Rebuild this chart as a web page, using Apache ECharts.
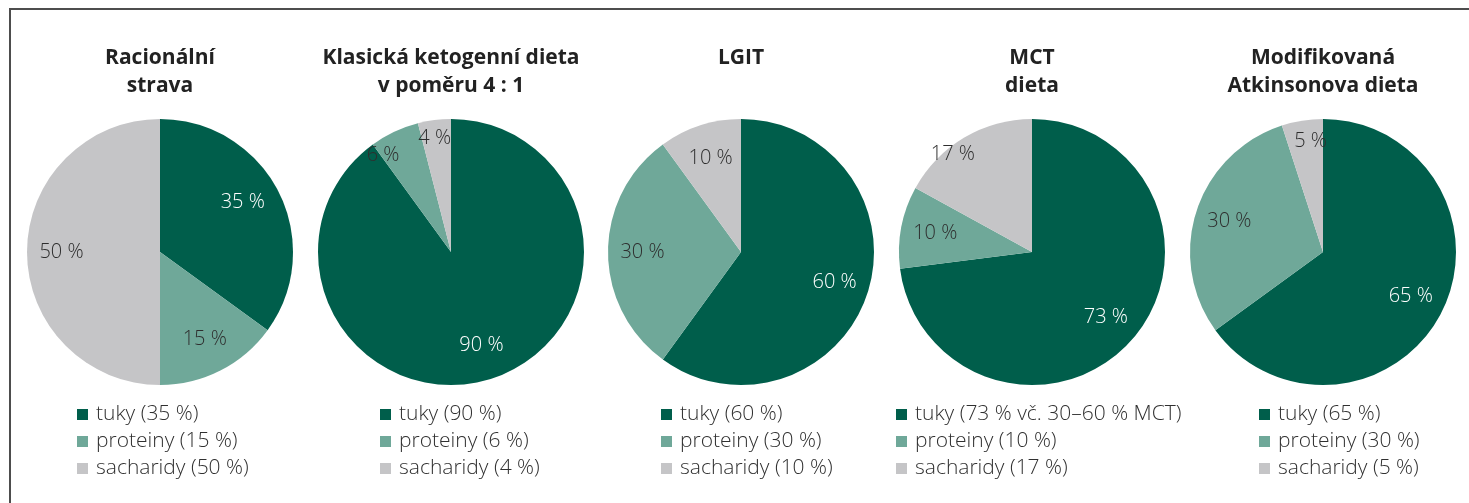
<!DOCTYPE html>
<html>
<head>
<meta charset="utf-8">
<script src="https://cdn.jsdelivr.net/npm/echarts@6/dist/echarts.min.js"></script>
<style>
  html, body { margin: 0; padding: 0; background: #fff; overflow: hidden; }
  #chart { position: absolute; left: 0; top: 0; width: 1469px; height: 503px; }
  /* rámeček obrázku - vidět je jen horní a levá hrana */
  .frame { position: absolute; left: 9px; top: 8px; width: 1500px; height: 520px;
           border-top: 2px solid #4d4d4d; border-left: 2px solid #4d4d4d; }
</style>
</head>
<body>
<div class="frame"></div>
<div id="chart"></div>
<script>
  // data
  const titles = ['Racionální\nstrava', 'Klasická ketogenní dieta\nv poměru 4 : 1', 'LGIT', 'MCT\ndieta', 'Modifikovaná\nAtkinsonova dieta'];
  const partNames = ['tuky', 'proteiny', 'sacharidy'];
  const tuky = [35, 90, 60, 73, 65];
  const proteiny = [15, 6, 30, 10, 30];
  const sacharidy = [50, 4, 10, 17, 5];
  const tukyNote = ['', '', '', ' vč. 30–60 % MCT', ''];

  // vzhled
  const colors = ['#005e4b', '#6fa899', '#c5c5c7'];
  const labelColors = ['#ffffff', '#2e2e2e', '#2e2e2e'];
  const centersX = [160, 451, 741, 1032, 1323];
  const legendLeft = [77, 380, 661, 896, 1259];
  const centerY = 252;
  const radius = 133;
  // ruční posun popisků u malých výsečí (jako v originále)
  const labelNudge = [
    [[-5, -5], null, null],
    [null, [-26, -8], [-4, -16]],
    [null, null, null],
    [null, null, [-29, -13]],
    [null, null, [3, -13]]
  ];
  const font = '"Open Sans", "Noto Sans", sans-serif';

  const chart = echarts.init(document.getElementById('chart'));
  const title = [], legend = [], series = [];

  titles.forEach((t, i) => {
    const values = [tuky[i], proteiny[i], sacharidy[i]];
    const names = [
      `tuky (${tuky[i]} %${tukyNote[i]})`,
      `proteiny (${proteiny[i]} %)`,
      `sacharidy (${sacharidy[i]} %)`
    ];
    title.push({
      text: t,
      left: centersX[i],
      top: 44,
      textAlign: 'center',
      padding: 0,
      textStyle: { fontFamily: font, fontWeight: 'bold', fontSize: 21, lineHeight: 28, color: '#222' }
    });
    legend.push({
      orient: 'vertical',
      left: legendLeft[i],
      top: 401,
      padding: 0,
      itemGap: 0,
      itemWidth: 11,
      itemHeight: 11,
      icon: 'rect',
      selectedMode: false,
      data: names,
      textStyle: { fontFamily: font, fontSize: 21, fontWeight: 300, color: '#303030', lineHeight: 27, padding: [0, 0, 0, 3] }
    });
    // samotný koláč
    series.push({
      type: 'pie',
      center: [centersX[i], centerY],
      radius: radius,
      startAngle: 90,
      clockwise: true,
      silent: true,
      label: { show: false },
      labelLine: { show: false },
      data: values.map((v, k) => ({ name: names[k], value: v, itemStyle: { color: colors[k] } }))
    });
    // průhledný prstenec jen kvůli pozici popisků (dál od středu)
    series.push({
      type: 'pie',
      center: [centersX[i], centerY],
      radius: [58, radius],
      startAngle: 90,
      clockwise: true,
      silent: true,
      itemStyle: { color: 'rgba(0,0,0,0)' },
      labelLine: { show: false },
      data: values.map((v, k) => ({
        name: partNames[k] + ' ' + i,
        value: v,
        label: {
          show: true,
          position: 'inside',
          formatter: v + ' %',
          color: labelColors[k],
          fontFamily: font,
          fontSize: 20,
          fontWeight: 300,
          offset: labelNudge[i][k] || [0, 0]
        }
      }))
    });
  });

  chart.setOption({
    animation: false,
    title: title,
    legend: legend,
    series: series
  });
</script>
</body>
</html>
